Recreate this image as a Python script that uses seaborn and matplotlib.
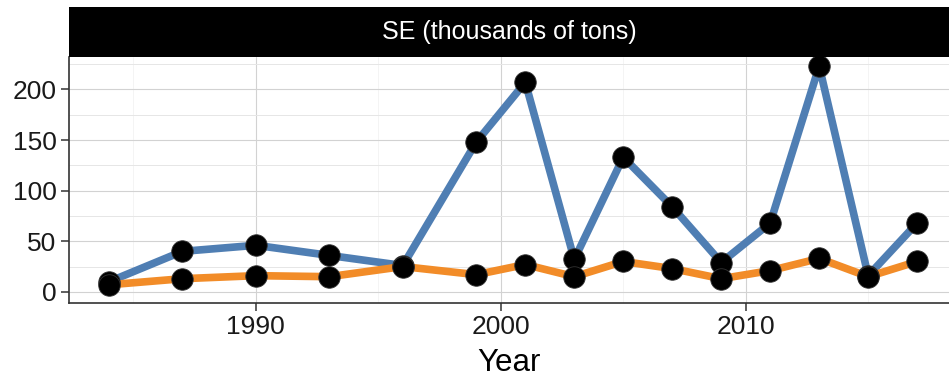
import matplotlib
matplotlib.use("Agg")
import matplotlib.pyplot as plt
import numpy as np
import pandas as pd
import seaborn as sns

# Survey years and the two SE series (thousands of tons)
years = [1984, 1987, 1990, 1993, 1996, 1999, 2001, 2003, 2005, 2007, 2009, 2011, 2013, 2015, 2017]
series_a = [10, 40, 46, 36, 26, 148, 207, 32, 133, 84, 29, 68, 223, 16, 68]
series_b = [7, 13, 16, 15, 25, 17, 27, 15, 30, 23, 13, 21, 33, 15, 30]
series_names = ["A", "B"]
series_colors = ["#4F7EB3", "#F28C28"]
panel_title = "SE (thousands of tons)"
x_label = "Year"
y_ticks = [0, 50, 100, 150, 200]
x_ticks = [1990, 2000, 2010]

df = pd.DataFrame({
    "Year": years * 2,
    "value": series_a + series_b,
    "series": [series_names[0]] * len(years) + [series_names[1]] * len(years),
})

sns.set_theme(style="white")
plt.rcParams["font.family"] = ["Liberation Sans", "DejaVu Sans"]

W, H = 949, 376
fig = plt.figure(figsize=(W / 100, H / 100), dpi=100)
ax = fig.add_axes([69 / W, (H - 303) / H, (W - 69) / W, (303 - 57) / H])
strip = fig.add_axes([69 / W, (H - 57) / H, (W - 69) / W, (57 - 7) / H])

sns.lineplot(data=df, x="Year", y="value", hue="series", palette=series_colors,
             linewidth=5.5, legend=False, ax=ax, zorder=3)
sns.scatterplot(data=df, x="Year", y="value", color="black", s=240,
                edgecolor="#333333", linewidth=0.6, legend=False, ax=ax, zorder=4)

ax.set_xlim(1982.37, 2018.3)
ax.set_ylim(-11, 232)
ax.set_yticks(y_ticks)
ax.set_xticks(x_ticks)
ax.set_yticks([25, 75, 125, 175, 225], minor=True)
ax.set_xticks([1985, 1995, 2005, 2015], minor=True)
ax.grid(True, which="major", color="#D2D2D2", linewidth=0.8)
ax.grid(True, which="minor", axis="y", color="#E6E6E6", linewidth=0.7)
ax.grid(True, which="minor", axis="x", color="#F3F3F3", linewidth=0.6)
ax.set_axisbelow(True)

for side in ["top", "right"]:
    ax.spines[side].set_visible(False)
for side in ["left", "bottom"]:
    ax.spines[side].set_color("#333333")
    ax.spines[side].set_linewidth(1.2)
ax.tick_params(axis="both", which="major", direction="out", length=6, width=1.1,
               color="#333333", labelsize=19, labelcolor="#1a1a1a", pad=3,
               left=True, bottom=True)
ax.tick_params(axis="both", which="minor", length=0)
ax.set_xlabel(x_label, fontsize=22.5, color="black", labelpad=6)
ax.set_ylabel("")

strip.set_facecolor("black")
strip.set_xticks([])
strip.set_yticks([])
for s in strip.spines.values():
    s.set_visible(False)
strip.text(0.5, 0.5, panel_title, color="white", fontsize=18,
           ha="center", va="center", transform=strip.transAxes)

fig.savefig("out.png", dpi=100, facecolor="white")
